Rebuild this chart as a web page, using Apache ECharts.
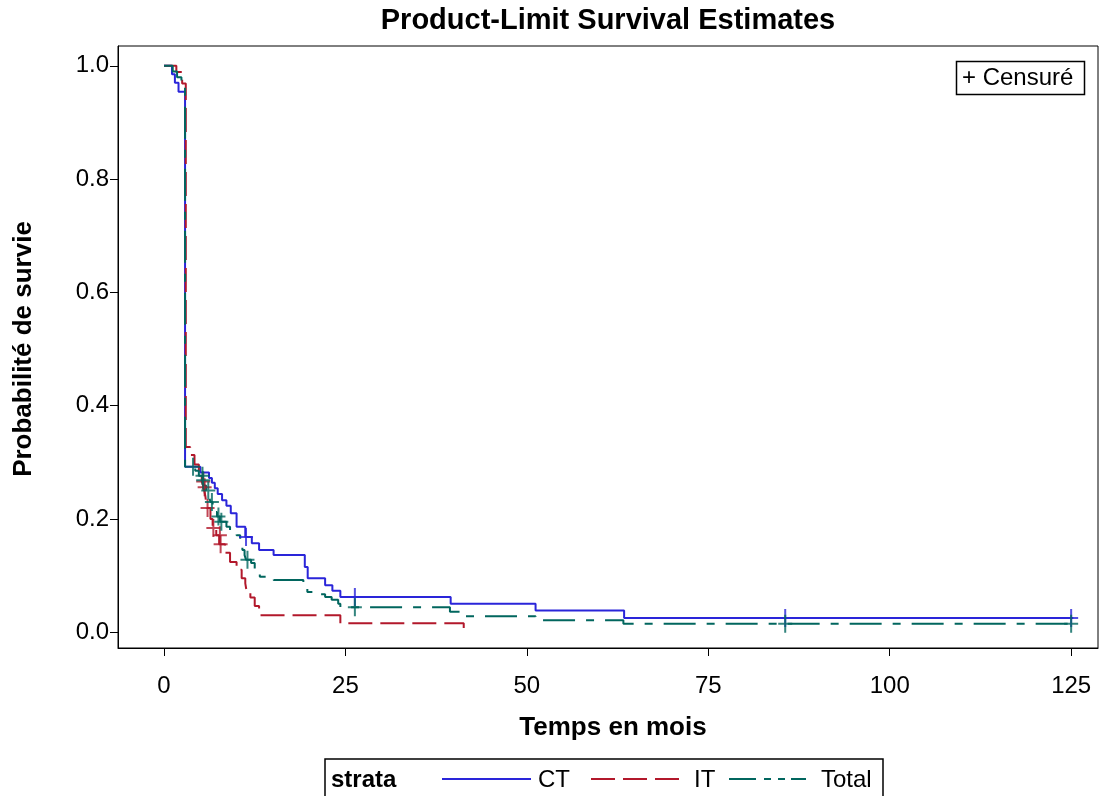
<!DOCTYPE html>
<html><head><meta charset="utf-8">
<script src="https://cdn.jsdelivr.net/npm/echarts@6/dist/echarts.min.js"></script>
<style>html,body{margin:0;padding:0;background:#fff}#c{width:1106px;height:796px}</style>
</head><body><div id="c"></div>
<script>
// ---- data ----
const ctTime = [0, 1.1, 1.5, 2.0, 2.9, 5.0, 6.2, 6.6, 7.0, 7.4, 8.0, 8.6, 9.2, 10.0, 11.2, 12.1, 13.1, 15.1, 19.4, 19.8, 22.2, 23.2, 24.3, 39.5, 51.2, 63.4, 125.3];
const ctSurv = [1.0, 0.985, 0.97, 0.954, 0.292, 0.282, 0.272, 0.264, 0.254, 0.244, 0.233, 0.223, 0.210, 0.186, 0.168, 0.157, 0.145, 0.136, 0.115, 0.095, 0.083, 0.073, 0.062, 0.050, 0.038, 0.025, 0.025];
const ctCensT = [11.3, 26.3, 85.6, 125.0];
const ctCensS = [0.168, 0.062, 0.025, 0.025];

const itTime = [0, 1.7, 2.5, 3.0, 3.6, 4.2, 4.8, 5.2, 5.45, 5.7, 5.9, 6.4, 6.7, 7.2, 7.6, 8.4, 9.1, 10.0, 10.7, 11.2, 11.4, 11.9, 12.5, 13.1, 24.3, 41.3];
const itSurv = [1.0, 0.989, 0.969, 0.327, 0.313, 0.296, 0.280, 0.266, 0.256, 0.240, 0.219, 0.200, 0.184, 0.171, 0.155, 0.140, 0.124, 0.110, 0.095, 0.086, 0.071, 0.061, 0.046, 0.030, 0.0155, 0.0];
const itCensT = [5.4, 5.6, 6.0, 6.8, 7.7, 7.8];
const itCensS = [0.266, 0.256, 0.219, 0.184, 0.171, 0.155];

const totTime = [0, 1.2, 1.8, 2.4, 2.9, 4.3, 4.8, 5.35, 5.5, 5.8, 6.2, 6.4, 6.7, 7.0, 7.3, 7.7, 8.6, 9.1, 10.0, 10.5, 10.8, 11.1, 11.3, 12.0, 12.5, 13.2, 15.1, 19.2, 19.75, 21.0, 22.2, 23.1, 24.0, 24.3, 39.4, 41.3, 51.2, 63.3, 125.3];
const totSurv = [1.0, 0.99, 0.98, 0.97, 0.292, 0.285, 0.276, 0.268, 0.259, 0.250, 0.240, 0.230, 0.221, 0.212, 0.204, 0.195, 0.186, 0.177, 0.171, 0.154, 0.145, 0.136, 0.128, 0.122, 0.110, 0.098, 0.092, 0.086, 0.071, 0.067, 0.062, 0.057, 0.050, 0.044, 0.036, 0.028, 0.021, 0.015, 0.015];
const totCensT = [4.0, 5.3, 5.4, 6.1, 6.6, 7.5, 7.9, 11.5, 26.3, 85.6, 125.0];
const totCensS = [0.292, 0.276, 0.268, 0.250, 0.230, 0.204, 0.195, 0.128, 0.044, 0.015, 0.015];

const xTicks = [0, 25, 50, 75, 100, 125];
const yTicks = [0.0, 0.2, 0.4, 0.6, 0.8, 1.0];
const strata = ['CT', 'IT', 'Total'];

// ---- styles ----
const FONT = '"Liberation Sans", Arial, sans-serif';
const COL = { CT: '#2A25D9', IT: '#B2182B', Total: '#01665E' };
const DASH = { CT: 'solid', IT: [24, 8], Total: [32, 11, 8, 11] };
const PLUS = 'path://M0,8h14v2h-14z M6,0h2v18h-2z';

const pairs = (xs, ys) => xs.map((x, i) => [x, ys[i]]);
const curves = { CT: [ctTime, ctSurv], IT: [itTime, itSurv], Total: [totTime, totSurv] };
const cens = { CT: [ctCensT, ctCensS], IT: [itCensT, itCensS], Total: [totCensT, totCensS] };

const series = [];
strata.forEach(s => {
  series.push({
    name: s, type: 'line', step: 'end', symbol: 'none', silent: true,
    data: pairs(curves[s][0], curves[s][1]),
    lineStyle: { color: COL[s], width: 2, type: DASH[s] },
    z: 2
  });
});
strata.forEach(s => {
  series.push({
    name: s + ' censored', type: 'scatter', symbol: PLUS, symbolSize: [14, 18], silent: true,
    data: pairs(cens[s][0], cens[s][1]),
    itemStyle: { color: COL[s] }, z: 3
  });
});

const chart = echarts.init(document.getElementById('c'), null, { renderer: 'canvas' });
chart.setOption({
  animation: false,
  backgroundColor: '#fff',
  grid: { left: 118, top: 46, width: 980, height: 602, show: true, borderColor: '#000', borderWidth: 1, containLabel: false },
  xAxis: {
    type: 'value', min: -6.34, max: 128.7,
    axisLine: { show: true, onZero: false, lineStyle: { color: '#000', width: 1 } },
    axisTick: { show: true, length: 8, customValues: xTicks, lineStyle: { color: '#000', width: 1 } },
    axisLabel: { customValues: xTicks, fontSize: 24, fontFamily: FONT, color: '#000', margin: 26 },
    splitLine: { show: false }
  },
  yAxis: {
    type: 'value', min: -0.028, max: 1.035,
    axisLine: { show: true, onZero: false, lineStyle: { color: '#000', width: 1 } },
    axisTick: { show: true, length: 8, customValues: yTicks, lineStyle: { color: '#000', width: 1 } },
    axisLabel: { customValues: yTicks, fontSize: 24, fontFamily: FONT, color: '#000', margin: 9,
      formatter: v => v.toFixed(1) },
    splitLine: { show: false }
  },
  series: series,
  graphic: [
    { type: 'text', x: 608, y: 21, style: { text: 'Product-Limit Survival Estimates', font: 'bold 29px ' + FONT, fill: '#000', textAlign: 'center', textVerticalAlign: 'middle', align: 'center', verticalAlign: 'middle' } },
    { type: 'text', x: 613, y: 728, style: { text: 'Temps en mois', font: 'bold 26px ' + FONT, fill: '#000', textAlign: 'center', textVerticalAlign: 'middle', align: 'center', verticalAlign: 'middle' } },
    { type: 'text', x: 24, y: 349, rotation: Math.PI / 2, style: { text: 'Probabilité de survie', font: 'bold 26px ' + FONT, fill: '#000', textAlign: 'center', textVerticalAlign: 'middle', align: 'center', verticalAlign: 'middle' } },
    // censored key box
    { type: 'rect', shape: { x: 956.5, y: 61.5, width: 128, height: 33 }, style: { fill: '#fff', stroke: '#000', lineWidth: 1.5 }, z: 10 },
    { type: 'text', x: 962, y: 78, z: 11, style: { text: '+ Censuré', font: '24px ' + FONT, fill: '#000', textAlign: 'left', textVerticalAlign: 'middle', align: 'left', verticalAlign: 'middle' } },
    // strata legend
    { type: 'rect', shape: { x: 325, y: 759, width: 558, height: 45 }, style: { fill: '#fff', stroke: '#000', lineWidth: 1.5 }, z: 10 },
    { type: 'text', x: 331, y: 780, z: 11, style: { text: 'strata', font: 'bold 24px ' + FONT, fill: '#000', textAlign: 'left', textVerticalAlign: 'middle', align: 'left', verticalAlign: 'middle' } },
    { type: 'line', z: 11, shape: { x1: 442, y1: 779, x2: 531, y2: 779 }, style: { stroke: COL.CT, lineWidth: 2 } },
    { type: 'text', x: 538, y: 780, z: 11, style: { text: strata[0], font: '24px ' + FONT, fill: '#000', textAlign: 'left', textVerticalAlign: 'middle', align: 'left', verticalAlign: 'middle' } },
    { type: 'line', z: 11, shape: { x1: 591, y1: 779, x2: 679, y2: 779 }, style: { stroke: COL.IT, lineWidth: 2, lineDash: [24, 8] } },
    { type: 'text', x: 694, y: 780, z: 11, style: { text: strata[1], font: '24px ' + FONT, fill: '#000', textAlign: 'left', textVerticalAlign: 'middle', align: 'left', verticalAlign: 'middle' } },
    { type: 'line', z: 11, shape: { x1: 729, y1: 779, x2: 806, y2: 779 }, style: { stroke: COL.Total, lineWidth: 2, lineDash: [27, 8, 7, 7, 7, 6] } },
    { type: 'text', x: 821, y: 780, z: 11, style: { text: strata[2], font: '24px ' + FONT, fill: '#000', textAlign: 'left', textVerticalAlign: 'middle', align: 'left', verticalAlign: 'middle' } }
  ]
});
</script>
</body></html>
